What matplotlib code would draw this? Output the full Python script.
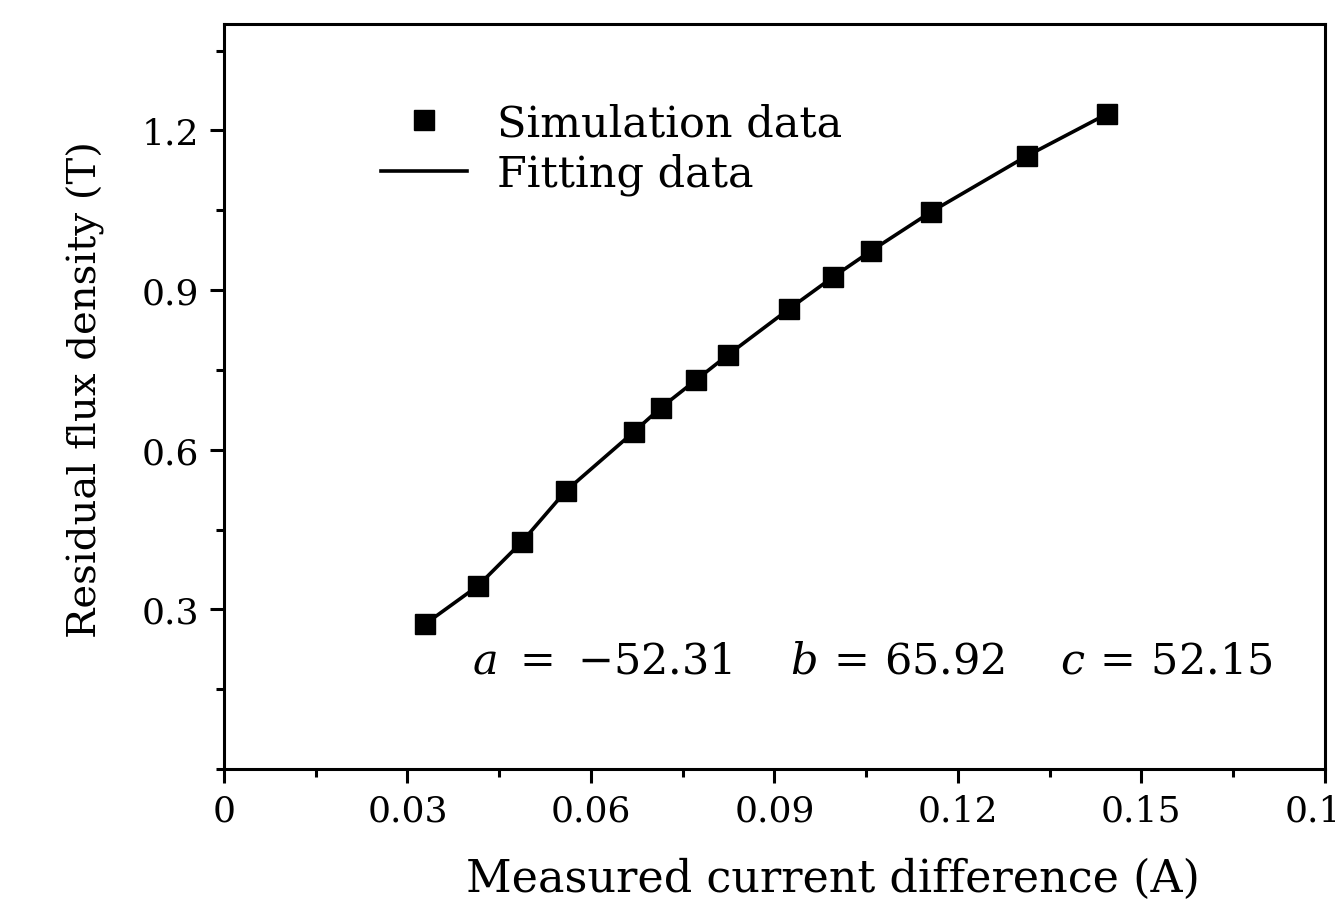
import matplotlib
matplotlib.use("Agg")
import matplotlib.pyplot as plt
from matplotlib.lines import Line2D
from matplotlib.ticker import MultipleLocator, FuncFormatter

# values
current_diff = [0.0329, 0.0415, 0.0487, 0.0559, 0.0670, 0.0714, 0.0772, 0.0824,
                0.0924, 0.0996, 0.1058, 0.1156, 0.1313, 0.1444]
flux_density = [0.2725, 0.3439, 0.4266, 0.5225, 0.6333, 0.6785, 0.7311, 0.7781,
                0.8645, 0.9246, 0.9735, 1.0468, 1.1521, 1.2310]
x_ticks = [0, 0.03, 0.06, 0.09, 0.12, 0.15, 0.18]
y_ticks = [0.3, 0.6, 0.9, 1.2]

plt.rcParams['font.family'] = ['DejaVu Serif']
plt.rcParams['mathtext.fontset'] = 'dejavuserif'


def fmt_x(v, pos):
    if abs(v) < 1e-9:
        return "0"
    return "%.2f" % v


def main():
    fig = plt.figure(figsize=(13.35, 9.03), dpi=100)
    ax = fig.add_axes([0.1678, 0.1473, 0.8245, 0.825])

    ax.plot(current_diff, flux_density, '-', color='black', lw=2.6, zorder=2)
    ax.plot(current_diff, flux_density, 's', color='black', ms=14, zorder=3)

    ax.set_xlim(0, 0.18)
    ax.set_ylim(0, 1.4)
    ax.set_xticks(x_ticks)
    ax.set_yticks(y_ticks)
    ax.xaxis.set_minor_locator(MultipleLocator(0.015))
    ax.yaxis.set_minor_locator(MultipleLocator(0.15))
    ax.xaxis.set_major_formatter(FuncFormatter(fmt_x))

    for s in ax.spines.values():
        s.set_linewidth(2.2)
    ax.tick_params(which='both', direction='out', width=2.2,
                   top=False, right=False)
    ax.tick_params(axis='x', labelsize=26)
    ax.tick_params(axis='y', labelsize=26)
    ax.tick_params(which='major', length=10, pad=8)
    ax.tick_params(which='minor', length=6)

    ax.set_ylabel("Residual flux density (T)", fontsize=29)
    ax.yaxis.set_label_coords(-0.108, 0.51)
    ax.set_xlabel("Measured current difference (A)", fontsize=32)
    ax.xaxis.set_label_coords(0.553, -0.118)

    handles = [Line2D([], [], marker='s', ls='none', color='black', ms=14),
               Line2D([], [], ls='-', color='black', lw=2.6)]
    ax.legend(handles, ["Simulation data", "Fitting data"], frameon=False,
              fontsize=31, loc='upper left', bbox_to_anchor=(0.127, 0.918),
              handlelength=2.0, handletextpad=0.7, labelspacing=0.2,
              borderaxespad=0)

    ax.text(0.225, 0.145,
            r"$a\ =\ {-}52.31\quad\ b\,{=}\,65.92\quad\ c\,{=}\,52.15$",
            transform=ax.transAxes, fontsize=31, va='center', ha='left')

    fig.savefig("out.png", dpi=100)


if __name__ == "__main__":
    main()
